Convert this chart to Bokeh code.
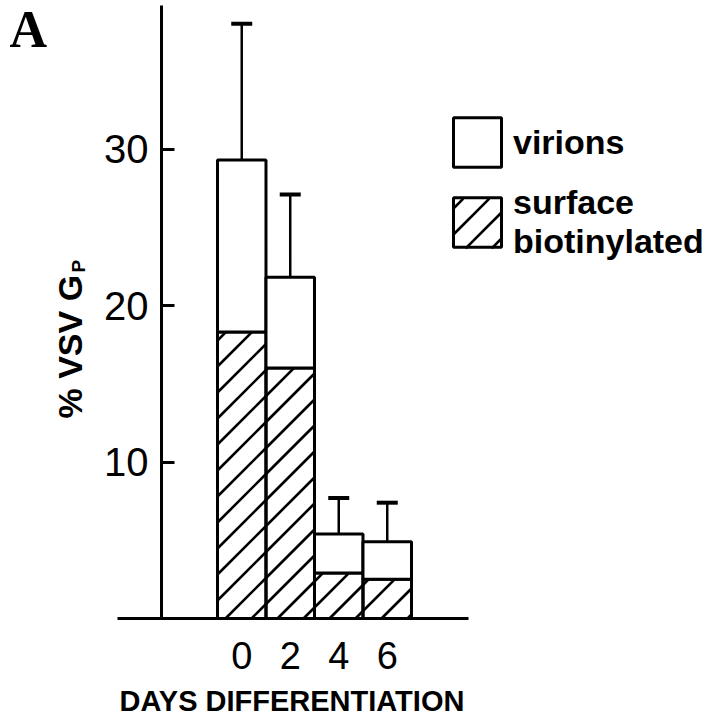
import math
from bokeh.plotting import figure
from bokeh.models import (ColumnDataSource, FixedTicker, Whisker, TeeHead, Legend,
                          LegendItem, Label, Range1d)
from bokeh.embed import file_html
from bokeh.resources import INLINE

# ---- data ----
days = [0, 2, 4, 6]
day_labels = ["0", "2", "4", "6"]
total_pct = [29.3, 21.8, 5.4, 4.9]        # virions + surface (top of stacked bar)
surface_pct = [18.3, 16.0, 2.9, 2.5]      # surface biotinylated part
error_pct = [8.7, 5.3, 2.3, 2.5]          # upper error bar above total
y_ticks = [10, 20, 30]

# ---- layout ----
W, H = 718, 720
X0, X1 = -9.948, 19.66
Y0, Y1 = -6.518, 39.49
BAR_W = 2
p = figure(width=W, height=H, output_backend="svg", toolbar_location=None,
           x_range=Range1d(X0, X1), y_range=Range1d(Y0, Y1),
           min_border_left=0, min_border_right=0, min_border_top=0,
           min_border_bottom=0)
p.outline_line_color = None
p.grid.visible = False
p.background_fill_color = "white"
p.border_fill_color = "white"

SX = W / (X1 - X0)   # px per data unit
SY = H / (Y1 - Y0)


def hatch_segments(x0, x1, y0, y1, d=26.0, phase=7.0):
    """45-degree '/' hatch lines clipped to a data rectangle."""
    u0, u1 = (x0 - X0) * SX, (x1 - X0) * SX
    v0, v1 = (y0 - Y0) * SY, (y1 - Y0) * SY
    out = []
    kmin = math.floor((v0 - u1 - phase) / d)
    kmax = math.ceil((v1 - u0 - phase) / d)
    for k in range(kmin, kmax + 1):
        b = k * d + phase
        lo, hi = max(u0, v0 - b), min(u1, v1 - b)
        if hi - lo > 1.0:
            out.append((X0 + lo / SX, Y0 + (lo + b) / SY,
                        X0 + hi / SX, Y0 + (hi + b) / SY))
    return out


src = ColumnDataSource(dict(
    day=days, total=total_pct, surface=surface_pct,
    upper=[t + e for t, e in zip(total_pct, error_pct)],
))

# hatch of the surface-biotinylated part of each bar
segs = []
for d_, s_ in zip(days, surface_pct):
    segs += hatch_segments(d_ - BAR_W / 2, d_ + BAR_W / 2, 0, s_)

# legend layout (screen px from frame bottom-left) and hatch of its swatch
LEG_X, LEG_Y = 447, 459
GLYPH_W, GLYPH_H = 60, 62
ITEM2_H = 76
sw_x0 = LEG_X + 0.1 * GLYPH_W
sw_x1 = LEG_X + 0.9 * GLYPH_W
sw_y0 = LEG_Y + (ITEM2_H - GLYPH_H) / 2 + 0.1 * GLYPH_H
sw_y1 = sw_y0 + 0.8 * GLYPH_H
segs += hatch_segments(X0 + sw_x0 / SX, X0 + sw_x1 / SX,
                       Y0 + sw_y0 / SY, Y0 + sw_y1 / SY)

hsrc = ColumnDataSource(dict(x0=[s[0] for s in segs], y0=[s[1] for s in segs],
                             x1=[s[2] for s in segs], y1=[s[3] for s in segs]))
p.segment(x0="x0", y0="y0", x1="x1", y1="y1", source=hsrc,
          line_color="black", line_width=2.6)

r_surf = p.vbar(x="day", width=BAR_W, bottom=0, top="surface", source=src,
                fill_color=None, line_color="black", line_width=3)
r_vir = p.vbar(x="day", width=BAR_W, bottom="surface", top="total", source=src,
               fill_color="white", line_color="black", line_width=3)

wh = Whisker(source=src, base="day", lower="total", upper="upper",
             line_color="black", line_width=2.5,
             upper_head=TeeHead(size=21, line_width=4, line_color="black"),
             lower_head=None)
p.add_layout(wh)

# axes
tick_font = "Liberation Sans"
p.yaxis.ticker = FixedTicker(ticks=y_ticks)
p.yaxis.fixed_location = -3.309
p.yaxis.bounds = (0, 39.17)
p.yaxis.axis_line_width = 3
p.yaxis.major_tick_in = 13
p.yaxis.major_tick_out = 0
p.yaxis.major_tick_line_width = 3
p.yaxis.minor_tick_line_color = None
p.yaxis.major_label_text_font = tick_font
p.yaxis.major_label_text_font_size = "40px"
p.yaxis.major_label_text_color = "black"
p.yaxis.major_label_standoff = 13

p.xaxis.ticker = FixedTicker(ticks=days)
p.xaxis.fixed_location = 0
p.xaxis.bounds = (-5.124, 9.35)
p.xaxis.major_label_overrides = {d: s for d, s in zip(days, day_labels)}
p.xaxis.axis_line_width = 3
p.xaxis.major_tick_line_color = None
p.xaxis.minor_tick_line_color = None
p.xaxis.major_label_text_font = tick_font
p.xaxis.major_label_text_font_size = "38px"
p.xaxis.major_label_text_color = "black"
p.xaxis.major_label_standoff = 18

# x title
p.add_layout(Label(x=2.072, y=-5.24, text="DAYS DIFFERENTIATION",
                   text_align="center", text_baseline="alphabetic",
                   text_font="Liberation Sans", text_font_style="bold",
                   text_font_size="29px", text_color="black"))
# y title with subscript
p.add_layout(Label(x=-7.062, y=12.78, text="% VSV G", angle=1.5708,
                   text_align="left", text_baseline="alphabetic",
                   text_font="Liberation Sans", text_font_style="bold",
                   text_font_size="34px", text_color="black"))
p.add_layout(Label(x=-6.711, y=22.11, text="P", angle=1.5708,
                   text_align="left", text_baseline="alphabetic",
                   text_font="Liberation Sans", text_font_style="bold",
                   text_font_size="19px", text_color="black"))
# panel letter
p.add_layout(Label(x=-9.577, y=37.655, text="A", text_align="left",
                   text_baseline="alphabetic", text_font="Liberation Serif",
                   text_font_style="bold", text_font_size="52px",
                   text_color="black"))

legend = Legend(items=[LegendItem(label="virions", renderers=[r_vir]),
                       LegendItem(label="surface\nbiotinylated", renderers=[r_surf])],
                location=(LEG_X, LEG_Y), glyph_width=GLYPH_W, glyph_height=GLYPH_H,
                label_standoff=6, spacing=10, padding=0, margin=0,
                border_line_color=None, background_fill_alpha=0,
                label_text_font="Liberation Sans", label_text_font_style="bold",
                label_text_font_size="34px", label_text_color="black",
                label_text_line_height=0.78)
p.add_layout(legend)

open("out.html", "w").write(file_html(p, INLINE))
